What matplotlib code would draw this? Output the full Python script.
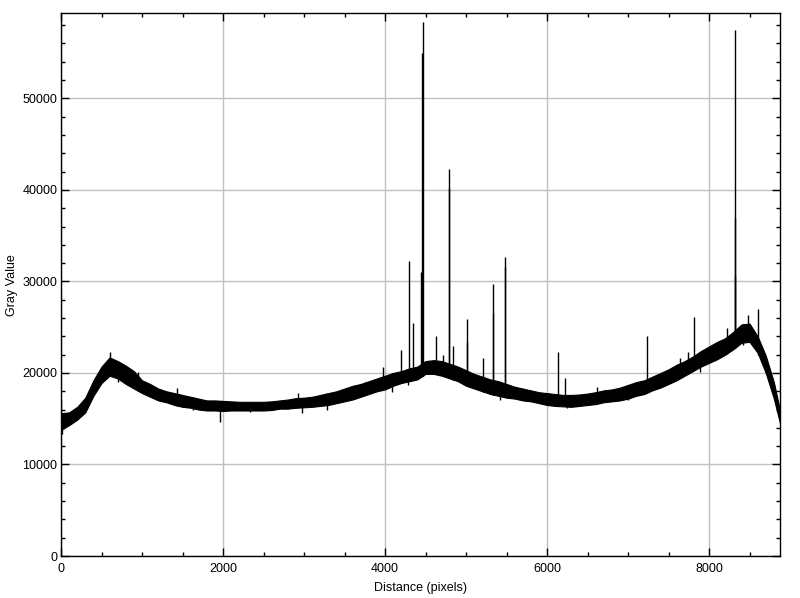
import numpy as np
import matplotlib.pyplot as plt

plt.rcParams['font.family'] = ['Liberation Sans', 'DejaVu Sans']

# band of the profile, read every 100 px (lower / upper edge of the noise)
dist = [0, 100, 200, 300, 400, 500, 600, 700, 800, 900,
        1000, 1100, 1200, 1300, 1400, 1500, 1600, 1700, 1800, 1900,
        2000, 2100, 2200, 2300, 2400, 2500, 2600, 2700, 2800, 2900,
        3000, 3100, 3200, 3300, 3400, 3500, 3600, 3700, 3800, 3900,
        4000, 4100, 4200, 4300, 4400, 4500, 4600, 4700, 4800, 4900,
        5000, 5100, 5200, 5300, 5400, 5500, 5600, 5700, 5800, 5900,
        6000, 6100, 6200, 6300, 6400, 6500, 6600, 6700, 6800, 6900,
        7000, 7100, 7200, 7300, 7400, 7500, 7600, 7700, 7800, 7900,
        8000, 8100, 8200, 8300, 8400, 8500, 8600, 8700, 8800, 8876]
gray_low = [13800, 14300, 14900, 15700, 17500, 18900, 19700, 19400, 18800, 18300,
            17800, 17400, 17000, 16800, 16500, 16300, 16200, 16000, 15900, 15900,
            15850, 15900, 15900, 15900, 15900, 15900, 15950, 16100, 16100, 16200,
            16250, 16300, 16400, 16500, 16700, 16900, 17100, 17400, 17700, 18000,
            18200, 18600, 18900, 19100, 19300, 19900, 19900, 19700, 19400, 19100,
            18600, 18300, 18000, 17700, 17500, 17300, 17200, 17000, 16900, 16700,
            16500, 16400, 16350, 16300, 16400, 16500, 16600, 16800, 16900, 17000,
            17200, 17500, 17700, 18100, 18400, 18800, 19200, 19700, 20200, 20700,
            21100, 21500, 22000, 22600, 23300, 23400, 22200, 20000, 17200, 14500]
gray_high = [15600, 15700, 16300, 17300, 19200, 20700, 21700, 21300, 20800, 20200,
             19200, 18800, 18300, 18000, 17800, 17600, 17400, 17200, 17000, 17000,
             16950, 16900, 16850, 16850, 16850, 16850, 16900, 17000, 17100, 17250,
             17300, 17400, 17600, 17800, 18000, 18300, 18600, 18800, 19100, 19400,
             19700, 20000, 20200, 20500, 20700, 21300, 21400, 21300, 21000, 20700,
             20300, 19900, 19600, 19300, 19100, 18800, 18500, 18300, 18100, 17900,
             17800, 17700, 17600, 17600, 17650, 17750, 17900, 18100, 18200, 18400,
             18700, 19000, 19200, 19600, 20000, 20400, 20900, 21300, 21800, 22400,
             22900, 23400, 23800, 24500, 25300, 25400, 24000, 21900, 19000, 15900]

# narrow spikes above the band
spike_x = [5, 605, 955, 1428, 2930, 3753, 3979, 4201, 4300, 4349, 4448, 4460, 4468,
           4630, 4720, 4785, 4790, 4843, 5010, 5016, 5214, 5330, 5337, 5478, 5483,
           6140, 6226, 6613, 7065, 7238, 7642, 7745, 7819, 8219, 8316, 8321, 8326,
           8486, 8609]
spike_top = [17000, 22330, 20140, 18330, 17780, 19050, 20690, 22500, 32200, 25500,
             31000, 55000, 58400, 24000, 22000, 40200, 42300, 22900, 23400, 25900,
             21600, 26600, 29700, 32700, 31600, 22300, 19500, 18510, 18510, 24000,
             21600, 22330, 26100, 24890, 36900, 57500, 30600, 26340, 27000]

# narrow dips below the band
dip_x = [8, 708, 1633, 1963, 2333, 2971, 3280, 4083, 4288, 4844, 5420, 6243,
         7004, 7889, 8424]
dip_bottom = [13300, 19050, 15960, 14680, 15770, 15600, 15960, 17960, 18690, 19240,
              17100, 16140, 17050, 20140, 23060]

fig = plt.figure(figsize=(8, 5.98), dpi=100)
ax = fig.add_axes([0.07625, 0.0702, 0.89875, 0.9076])

ax.fill_between(dist, gray_low, gray_high, color='black', lw=0.8, edgecolor='black', zorder=3)
spike_base = np.interp(spike_x, dist, gray_low)
ax.vlines(spike_x, spike_base, spike_top, color='black', lw=1.0, zorder=3)
dip_base = np.interp(dip_x, dist, gray_high)
ax.vlines(dip_x, dip_bottom, dip_base, color='black', lw=1.0, zorder=3)

ax.set_xlim(0, 8876)
ax.set_ylim(0, 59300)
ax.set_xticks([0, 2000, 4000, 6000, 8000])
ax.set_xticks(np.arange(0, 8877, 500), minor=True)
ax.set_yticks([0, 10000, 20000, 30000, 40000, 50000])
ax.set_yticks(np.arange(0, 59300, 2000), minor=True)

ax.grid(True, which='major', color='#c0c0c0', lw=1.0, zorder=0)
ax.tick_params(which='both', direction='in', top=True, right=True, labelsize=9, width=1)
ax.tick_params(which='major', length=6)
ax.tick_params(which='minor', length=3)
ax.tick_params(axis='x', pad=5)
ax.tick_params(axis='y', pad=2.5)
for s in ax.spines.values():
    s.set_linewidth(1.0)

ax.set_xlabel('Distance (pixels)', fontsize=9, labelpad=5)
ax.set_ylabel('Gray Value', fontsize=9, labelpad=3)

fig.savefig('out.png', dpi=100)
